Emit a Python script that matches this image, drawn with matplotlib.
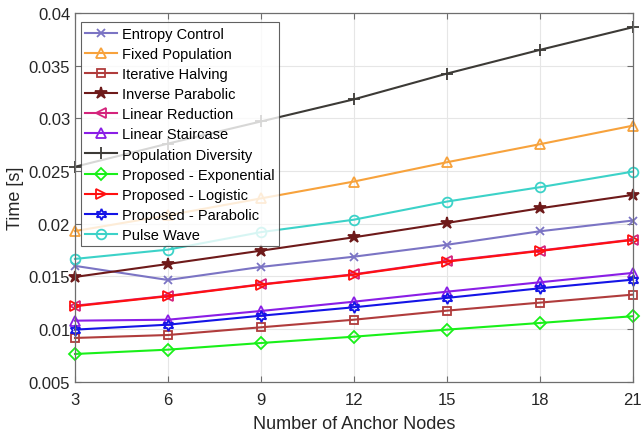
import matplotlib.pyplot as plt

plt.rcParams['font.family'] = ['Liberation Sans', 'DejaVu Sans']

# Number of anchor nodes
anchors = [3, 6, 9, 12, 15, 18, 21]

# Computation time per method [s]
entropy_control = [0.0160, 0.01466, 0.0159, 0.01687, 0.0180, 0.01928, 0.0203]
fixed_population = [0.0193, 0.0208, 0.0224, 0.0240, 0.02583, 0.02754, 0.0293]
iterative_halving = [0.00916, 0.00944, 0.01017, 0.01089, 0.01175, 0.01251, 0.01327]
inverse_parabolic = [0.01495, 0.01618, 0.01744, 0.01871, 0.02007, 0.02146, 0.02273]
linear_reduction = [0.01222, 0.01316, 0.01425, 0.01520, 0.01645, 0.01745, 0.01850]
linear_staircase = [0.0108, 0.01089, 0.01172, 0.0126, 0.01355, 0.01444, 0.01533]
population_diversity = [0.0254, 0.0276, 0.0297, 0.0318, 0.03424, 0.03649, 0.03864]
proposed_exponential = [0.00764, 0.00805, 0.00868, 0.00928, 0.00995, 0.01058, 0.01122]
proposed_logistic = [0.01217, 0.01312, 0.01422, 0.01516, 0.0164, 0.01741, 0.01846]
proposed_parabolic = [0.00995, 0.01042, 0.01127, 0.01207, 0.01296, 0.01387, 0.01469]
pulse_wave = [0.01666, 0.01754, 0.0192, 0.02038, 0.0221, 0.02346, 0.02494]

hexagram = (6, 1, 0)

series = [
    ('Entropy Control', entropy_control, '#7b74c4', 'x', 6, False),
    ('Fixed Population', fixed_population, '#f7a23c', '^', 7, False),
    ('Iterative Halving', iterative_halving, '#b03c3c', 's', 6, False),
    ('Inverse Parabolic', inverse_parabolic, '#6e1a1a', '*', 9, True),
    ('Linear Reduction', linear_reduction, '#d4247c', '<', 7, False),
    ('Linear Staircase', linear_staircase, '#8a1ee6', '^', 7, False),
    ('Population Diversity', population_diversity, '#3c3a36', '+', 8, False),
    ('Proposed - Exponential', proposed_exponential, '#19f019', 'D', 6, False),
    ('Proposed - Logistic', proposed_logistic, '#ff1010', '>', 7, False),
    ('Proposed - Parabolic', proposed_parabolic, '#1414e6', hexagram, 8, False),
    ('Pulse Wave', pulse_wave, '#3cd2c8', 'o', 7, False),
]

fig = plt.figure(figsize=(6.41, 4.35), dpi=100)
ax = fig.add_axes([0.117, 0.12, 0.870, 0.848])

for name, vals, color, marker, size, filled in series:
    ax.plot(anchors, vals, color=color, marker=marker, markersize=size,
            markerfacecolor=color if filled else 'none', markeredgecolor=color,
            markeredgewidth=1.3, linewidth=1.5, label=name, clip_on=False)

ax.set_xlim(3, 21)
ax.set_ylim(0.005, 0.04)
ax.set_xticks(anchors)
ax.set_yticks([0.005, 0.01, 0.015, 0.02, 0.025, 0.03, 0.035, 0.04])
ax.set_yticklabels(['0.005', '0.01', '0.015', '0.02', '0.025', '0.03', '0.035', '0.04'])
ax.grid(True, color='#e6e6e6', linewidth=0.8)
ax.set_axisbelow(True)
for sp in ax.spines.values():
    sp.set_color('#6e6e6e')
    sp.set_linewidth(0.9)
ax.tick_params(direction='in', length=4, colors='#6e6e6e', labelcolor='#262626',
               labelsize=12, top=True, right=True)
ax.tick_params(axis='x', pad=7)

ax.set_xlabel('Number of Anchor Nodes', fontsize=13, color='#262626', labelpad=6)
ax.set_ylabel('Time [s]', fontsize=13, color='#262626', labelpad=3)

leg = ax.legend(loc='upper left', bbox_to_anchor=(0.0, 0.99), fontsize=10.5,
                frameon=True, fancybox=False, edgecolor='#3a3a3a',
                handlelength=2.2, handletextpad=0.3, labelspacing=0.42,
                borderpad=0.3, borderaxespad=0.4)
leg.get_frame().set_linewidth(0.8)

fig.savefig('out.png', dpi=100)
